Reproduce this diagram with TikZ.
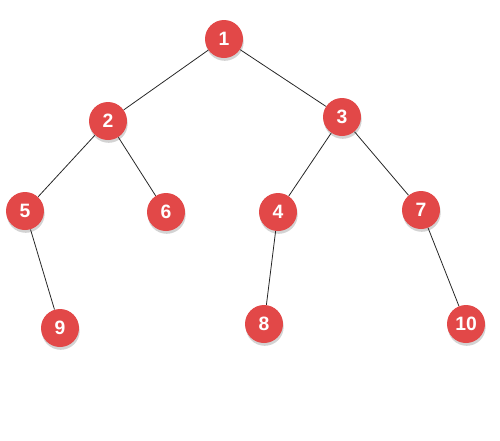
\documentclass[tikz,border=0pt]{standalone}
\usepackage{fontspec}
\setmainfont{Liberation Sans}
\usepackage{xcolor}
\usetikzlibrary{positioning, shadows}
\definecolor{nodered}{RGB}{226,72,72}

\begin{document}
\begin{tikzpicture}[knot/.style={circle, fill=nodered, minimum size=0.76cm, inner sep=0pt, text=white, font=\fontsize{11}{13}\selectfont\bfseries, drop shadow={shadow xshift=0.4pt, shadow yshift=-1.6pt, opacity=0.35}}, edge/.style={draw=black!85, line width=0.45pt}, on grid]

      \useasboundingbox (0,0) rectangle (10,-8.8);

      % Wurzel
      \node[knot] (n1) at (4.48,-0.78) {1};

      % Zweite Ebene
      \node[knot, below left=1.64cm and 2.32cm of n1] (n2) {2};
      \node[knot, below right=1.56cm and 2.36cm of n1] (n3) {3};

      % Dritte Ebene
      \node[knot, below left=1.80cm and 1.66cm of n2] (n5) {5};
      \node[knot, below right=1.82cm and 1.16cm of n2] (n6) {6};
      \node[knot, below left=1.90cm and 1.28cm of n3] (n4) {4};
      \node[knot, below right=1.86cm and 1.58cm of n3] (n7) {7};

      % Blaetter
      \node[knot, below right=2.34cm and 0.70cm of n5] (n9) {9};
      \node[knot, below left=2.24cm and 0.28cm of n4] (n8) {8};
      \node[knot, below right=2.28cm and 0.90cm of n7] (n10) {10};

      % Kanten
      \draw[edge] (n1) -- (n2);
      \draw[edge] (n1) -- (n3);
      \draw[edge] (n2) -- (n5);
      \draw[edge] (n2) -- (n6);
      \draw[edge] (n3) -- (n4);
      \draw[edge] (n3) -- (n7);
      \draw[edge] (n5) -- (n9);
      \draw[edge] (n4) -- (n8);
      \draw[edge] (n7) -- (n10);

\end{tikzpicture}
\end{document}
